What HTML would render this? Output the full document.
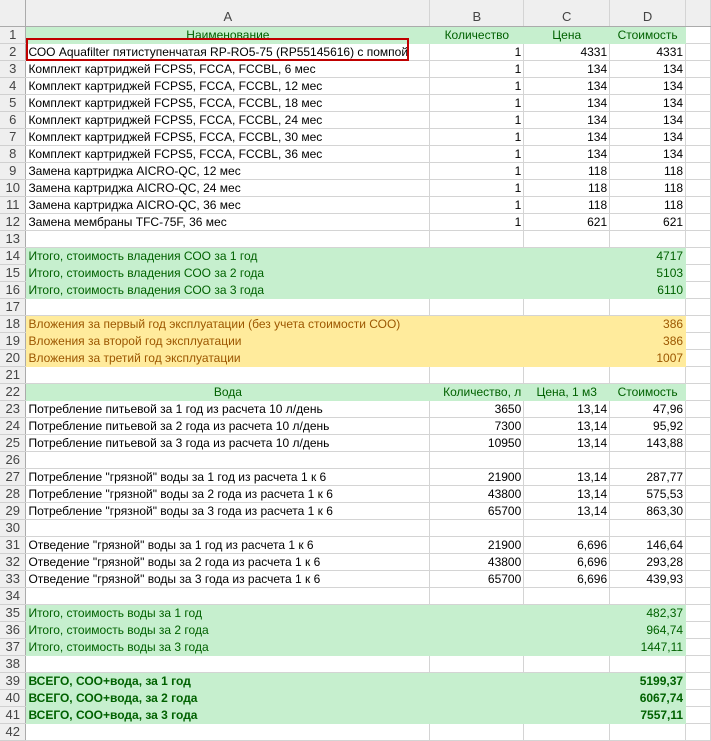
<!DOCTYPE html>
<html><head><meta charset="utf-8">
<style>
body{margin:0;width:711px;height:741px;overflow:hidden;background:#fff;font-family:"Liberation Sans",sans-serif;font-size:12px;}
table{border-collapse:collapse;table-layout:fixed;position:absolute;left:0;top:0;}
td{height:16px;padding:0 2px;border-right:1px solid #d4d4d4;border-bottom:1px solid #d4d4d4;white-space:nowrap;overflow:hidden;line-height:16px;color:#000;}
td.n{background:#efefef;color:#444;text-align:center;padding:0;border-right:1px solid #ababab;border-bottom:1px solid #d0d0d0;font-size:13px;}
tr.h td{height:26px;background:#efefef;color:#444;text-align:center;vertical-align:bottom;line-height:18px;border-bottom:1px solid #ababab;font-size:13px;}
td.r{text-align:right;}
td.c{text-align:center;}
tr.g td:not(.n):not(.e){background:#c6efce;color:#006100;border-right-color:#c6efce;border-bottom-color:#c6efce;}
tr.y td:not(.n):not(.e){background:#ffeb9c;color:#9c5700;border-right-color:#ffeb9c;border-bottom-color:#ffeb9c;}
tr.b td{font-weight:bold;}
tr.b td.n{font-weight:normal;}
#box{position:absolute;left:26px;top:38px;width:383px;height:23px;border:2px solid #c00000;box-sizing:border-box;}
</style></head><body>
<table>
<colgroup><col style="width:26px"><col style="width:404px"><col style="width:94px"><col style="width:86px"><col style="width:76px"><col style="width:25px"></colgroup>
<tr class="h"><td style="border-right:1px solid #ababab"></td><td>A</td><td>B</td><td>C</td><td>D</td><td></td></tr>
<tr class="g"><td class="n">1</td><td class="c">Наименование</td><td class="c">Количество</td><td class="c">Цена</td><td class="c">Стоимость</td><td class="e"></td></tr>
<tr><td class="n">2</td><td>СОО Aquafilter пятиступенчатая RP-RO5-75 (RP55145616) с помпой</td><td class="r">1</td><td class="r">4331</td><td class="r">4331</td><td></td></tr>
<tr><td class="n">3</td><td>Комплект картриджей FCPS5, FCCA, FCCBL, 6 мес</td><td class="r">1</td><td class="r">134</td><td class="r">134</td><td></td></tr>
<tr><td class="n">4</td><td>Комплект картриджей FCPS5, FCCA, FCCBL, 12 мес</td><td class="r">1</td><td class="r">134</td><td class="r">134</td><td></td></tr>
<tr><td class="n">5</td><td>Комплект картриджей FCPS5, FCCA, FCCBL, 18 мес</td><td class="r">1</td><td class="r">134</td><td class="r">134</td><td></td></tr>
<tr><td class="n">6</td><td>Комплект картриджей FCPS5, FCCA, FCCBL, 24 мес</td><td class="r">1</td><td class="r">134</td><td class="r">134</td><td></td></tr>
<tr><td class="n">7</td><td>Комплект картриджей FCPS5, FCCA, FCCBL, 30 мес</td><td class="r">1</td><td class="r">134</td><td class="r">134</td><td></td></tr>
<tr><td class="n">8</td><td>Комплект картриджей FCPS5, FCCA, FCCBL, 36 мес</td><td class="r">1</td><td class="r">134</td><td class="r">134</td><td></td></tr>
<tr><td class="n">9</td><td>Замена картриджа AICRO-QC, 12 мес</td><td class="r">1</td><td class="r">118</td><td class="r">118</td><td></td></tr>
<tr><td class="n">10</td><td>Замена картриджа AICRO-QC, 24 мес</td><td class="r">1</td><td class="r">118</td><td class="r">118</td><td></td></tr>
<tr><td class="n">11</td><td>Замена картриджа AICRO-QC, 36 мес</td><td class="r">1</td><td class="r">118</td><td class="r">118</td><td></td></tr>
<tr><td class="n">12</td><td>Замена мембраны TFC-75F, 36 мес</td><td class="r">1</td><td class="r">621</td><td class="r">621</td><td></td></tr>
<tr><td class="n">13</td><td></td><td></td><td></td><td></td><td></td></tr>
<tr class="g"><td class="n">14</td><td>Итого, стоимость владения СОО за 1 год</td><td></td><td></td><td class="r">4717</td><td class="e"></td></tr>
<tr class="g"><td class="n">15</td><td>Итого, стоимость владения СОО за 2 года</td><td></td><td></td><td class="r">5103</td><td class="e"></td></tr>
<tr class="g"><td class="n">16</td><td>Итого, стоимость владения СОО за 3 года</td><td></td><td></td><td class="r">6110</td><td class="e"></td></tr>
<tr><td class="n">17</td><td></td><td></td><td></td><td></td><td></td></tr>
<tr class="y"><td class="n">18</td><td>Вложения за первый год эксплуатации (без учета стоимости СОО)</td><td></td><td></td><td class="r">386</td><td class="e"></td></tr>
<tr class="y"><td class="n">19</td><td>Вложения за второй год эксплуатации</td><td></td><td></td><td class="r">386</td><td class="e"></td></tr>
<tr class="y"><td class="n">20</td><td>Вложения за третий год эксплуатации</td><td></td><td></td><td class="r">1007</td><td class="e"></td></tr>
<tr><td class="n">21</td><td></td><td></td><td></td><td></td><td></td></tr>
<tr class="g"><td class="n">22</td><td class="c">Вода</td><td class="r">Количество, л</td><td class="c">Цена, 1 м3</td><td class="c">Стоимость</td><td class="e"></td></tr>
<tr><td class="n">23</td><td>Потребление питьевой за 1 год из расчета 10 л/день</td><td class="r">3650</td><td class="r">13,14</td><td class="r">47,96</td><td></td></tr>
<tr><td class="n">24</td><td>Потребление питьевой за 2 года из расчета 10 л/день</td><td class="r">7300</td><td class="r">13,14</td><td class="r">95,92</td><td></td></tr>
<tr><td class="n">25</td><td>Потребление питьевой за 3 года из расчета 10 л/день</td><td class="r">10950</td><td class="r">13,14</td><td class="r">143,88</td><td></td></tr>
<tr><td class="n">26</td><td></td><td></td><td></td><td></td><td></td></tr>
<tr><td class="n">27</td><td>Потребление "грязной" воды за 1 год из расчета 1 к 6</td><td class="r">21900</td><td class="r">13,14</td><td class="r">287,77</td><td></td></tr>
<tr><td class="n">28</td><td>Потребление "грязной" воды за 2 года из расчета 1 к 6</td><td class="r">43800</td><td class="r">13,14</td><td class="r">575,53</td><td></td></tr>
<tr><td class="n">29</td><td>Потребление "грязной" воды за 3 года из расчета 1 к 6</td><td class="r">65700</td><td class="r">13,14</td><td class="r">863,30</td><td></td></tr>
<tr><td class="n">30</td><td></td><td></td><td></td><td></td><td></td></tr>
<tr><td class="n">31</td><td>Отведение "грязной" воды за 1 год из расчета 1 к 6</td><td class="r">21900</td><td class="r">6,696</td><td class="r">146,64</td><td></td></tr>
<tr><td class="n">32</td><td>Отведение "грязной" воды за 2 года из расчета 1 к 6</td><td class="r">43800</td><td class="r">6,696</td><td class="r">293,28</td><td></td></tr>
<tr><td class="n">33</td><td>Отведение "грязной" воды за 3 года из расчета 1 к 6</td><td class="r">65700</td><td class="r">6,696</td><td class="r">439,93</td><td></td></tr>
<tr><td class="n">34</td><td></td><td></td><td></td><td></td><td></td></tr>
<tr class="g"><td class="n">35</td><td>Итого, стоимость воды за 1 год</td><td></td><td></td><td class="r">482,37</td><td class="e"></td></tr>
<tr class="g"><td class="n">36</td><td>Итого, стоимость воды за 2 года</td><td></td><td></td><td class="r">964,74</td><td class="e"></td></tr>
<tr class="g"><td class="n">37</td><td>Итого, стоимость воды за 3 года</td><td></td><td></td><td class="r">1447,11</td><td class="e"></td></tr>
<tr><td class="n">38</td><td></td><td></td><td></td><td></td><td></td></tr>
<tr class="g b"><td class="n">39</td><td>ВСЕГО, СОО+вода, за 1 год</td><td></td><td></td><td class="r">5199,37</td><td class="e"></td></tr>
<tr class="g b"><td class="n">40</td><td>ВСЕГО, СОО+вода, за 2 года</td><td></td><td></td><td class="r">6067,74</td><td class="e"></td></tr>
<tr class="g b"><td class="n">41</td><td>ВСЕГО, СОО+вода, за 3 года</td><td></td><td></td><td class="r">7557,11</td><td class="e"></td></tr>
<tr><td class="n">42</td><td></td><td></td><td></td><td></td><td></td></tr>
</table>
<div id="box"></div>
</body></html>
